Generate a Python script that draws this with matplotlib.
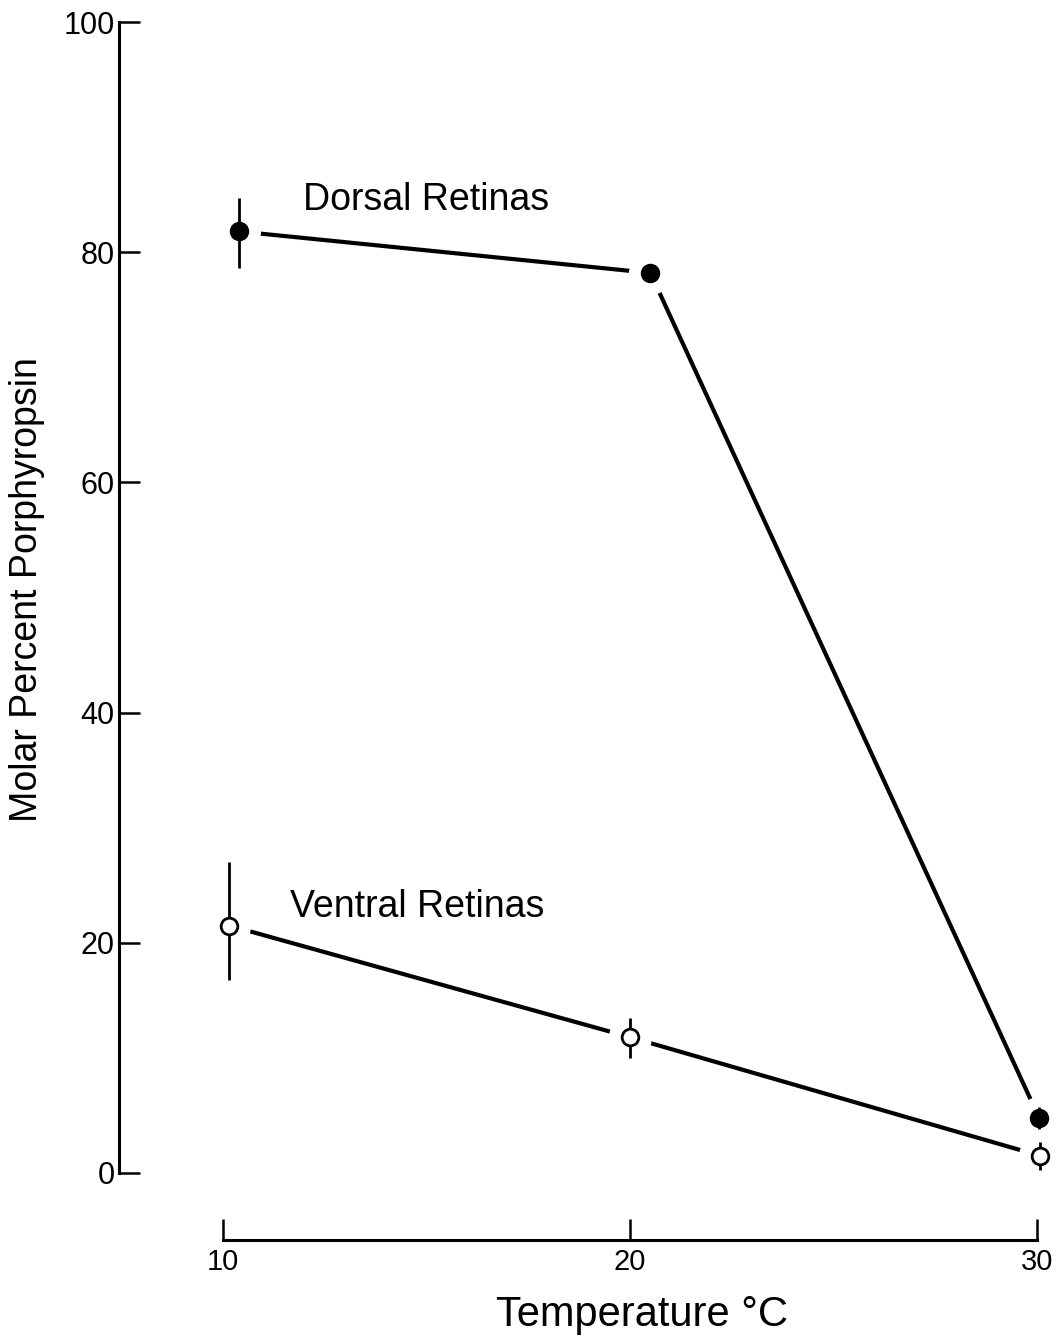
import matplotlib
matplotlib.use('Agg')
import matplotlib.pyplot as plt

plt.rcParams['font.family'] = ['Liberation Sans', 'DejaVu Sans']

# values (x positions as drawn)
dorsal_temp = [10.4, 20.5, 30.05]
dorsal_pct = [81.8, 78.2, 4.8]
dorsal_err_lo = [3.2, 0.0, 1.0]
dorsal_err_hi = [2.9, 0.0, 0.9]

ventral_temp = [10.15, 20.0, 30.07]
ventral_pct = [21.5, 11.8, 1.5]
ventral_err_lo = [4.7, 1.8, 1.2]
ventral_err_hi = [5.5, 1.7, 1.2]

y_ticks = [0, 20, 40, 60, 80, 100]
x_ticks = [10, 20, 30]

W, H = 1056, 1339
fig = plt.figure(figsize=(W / 100, H / 100), dpi=100)

# main axes (y axis only)
ax = fig.add_axes([119 / W, 1 - 1173 / H, (W - 119) / W, (1173 - 22) / H])
ax.set_xlim(10 - 104 / 40.7, 30 + 19 / 40.7)
ax.set_ylim(0, 100)
for s in ['top', 'right', 'bottom']:
    ax.spines[s].set_visible(False)
ax.spines['left'].set_linewidth(2.2)
ax.set_xticks([])
ax.set_yticks(y_ticks)
ax.tick_params(axis='y', direction='in', length=15, width=1.8, labelsize=22, pad=3)

# lines
ax.plot(dorsal_temp, dorsal_pct, color='black', lw=3, zorder=1, solid_capstyle='round')
ax.plot(ventral_temp, ventral_pct, color='black', lw=3, zorder=1, solid_capstyle='round')

# white halos to leave gaps between line and markers
ax.plot(dorsal_temp, dorsal_pct, 'o', ms=30, color='white', zorder=2)
ax.plot(ventral_temp, ventral_pct, 'o', ms=30, color='white', zorder=2)

# error bars and markers
ax.errorbar(dorsal_temp, dorsal_pct, yerr=[dorsal_err_lo, dorsal_err_hi], fmt='o',
            color='black', ms=13, elinewidth=2, capsize=0, zorder=3)
ax.errorbar(ventral_temp, ventral_pct, yerr=[ventral_err_lo, ventral_err_hi], fmt='o',
            color='black', mfc='white', mec='black', mew=2, ms=12, elinewidth=2,
            capsize=0, zorder=3)

ax.text(11.97, 84.5, 'Dorsal Retinas', fontsize=27, va='center', ha='left')
ax.text(11.65, 23.1, 'Ventral Retinas', fontsize=27, va='center', ha='left')

# separate x axis below
ax2 = fig.add_axes([223 / W, 1 - 1240 / H, 814 / W, 0.01])
ax2.set_xlim(10, 30)
ax2.set_ylim(0, 1)
for s in ['top', 'right', 'left']:
    ax2.spines[s].set_visible(False)
ax2.spines['bottom'].set_linewidth(2.2)
ax2.set_yticks([])
ax2.set_xticks(x_ticks)
ax2.tick_params(axis='x', direction='in', length=15, width=1.8, labelsize=21, pad=6)
ax2.patch.set_visible(False)

fig.text(642 / W, 1 - 1315 / H, 'Temperature °C', fontsize=30, ha='center', va='center')
fig.text(27 / W, 1 - 590 / H, 'Molar Percent Porphyropsin', fontsize=27,
         rotation=90, ha='center', va='center')

fig.savefig('out.png', dpi=100)
